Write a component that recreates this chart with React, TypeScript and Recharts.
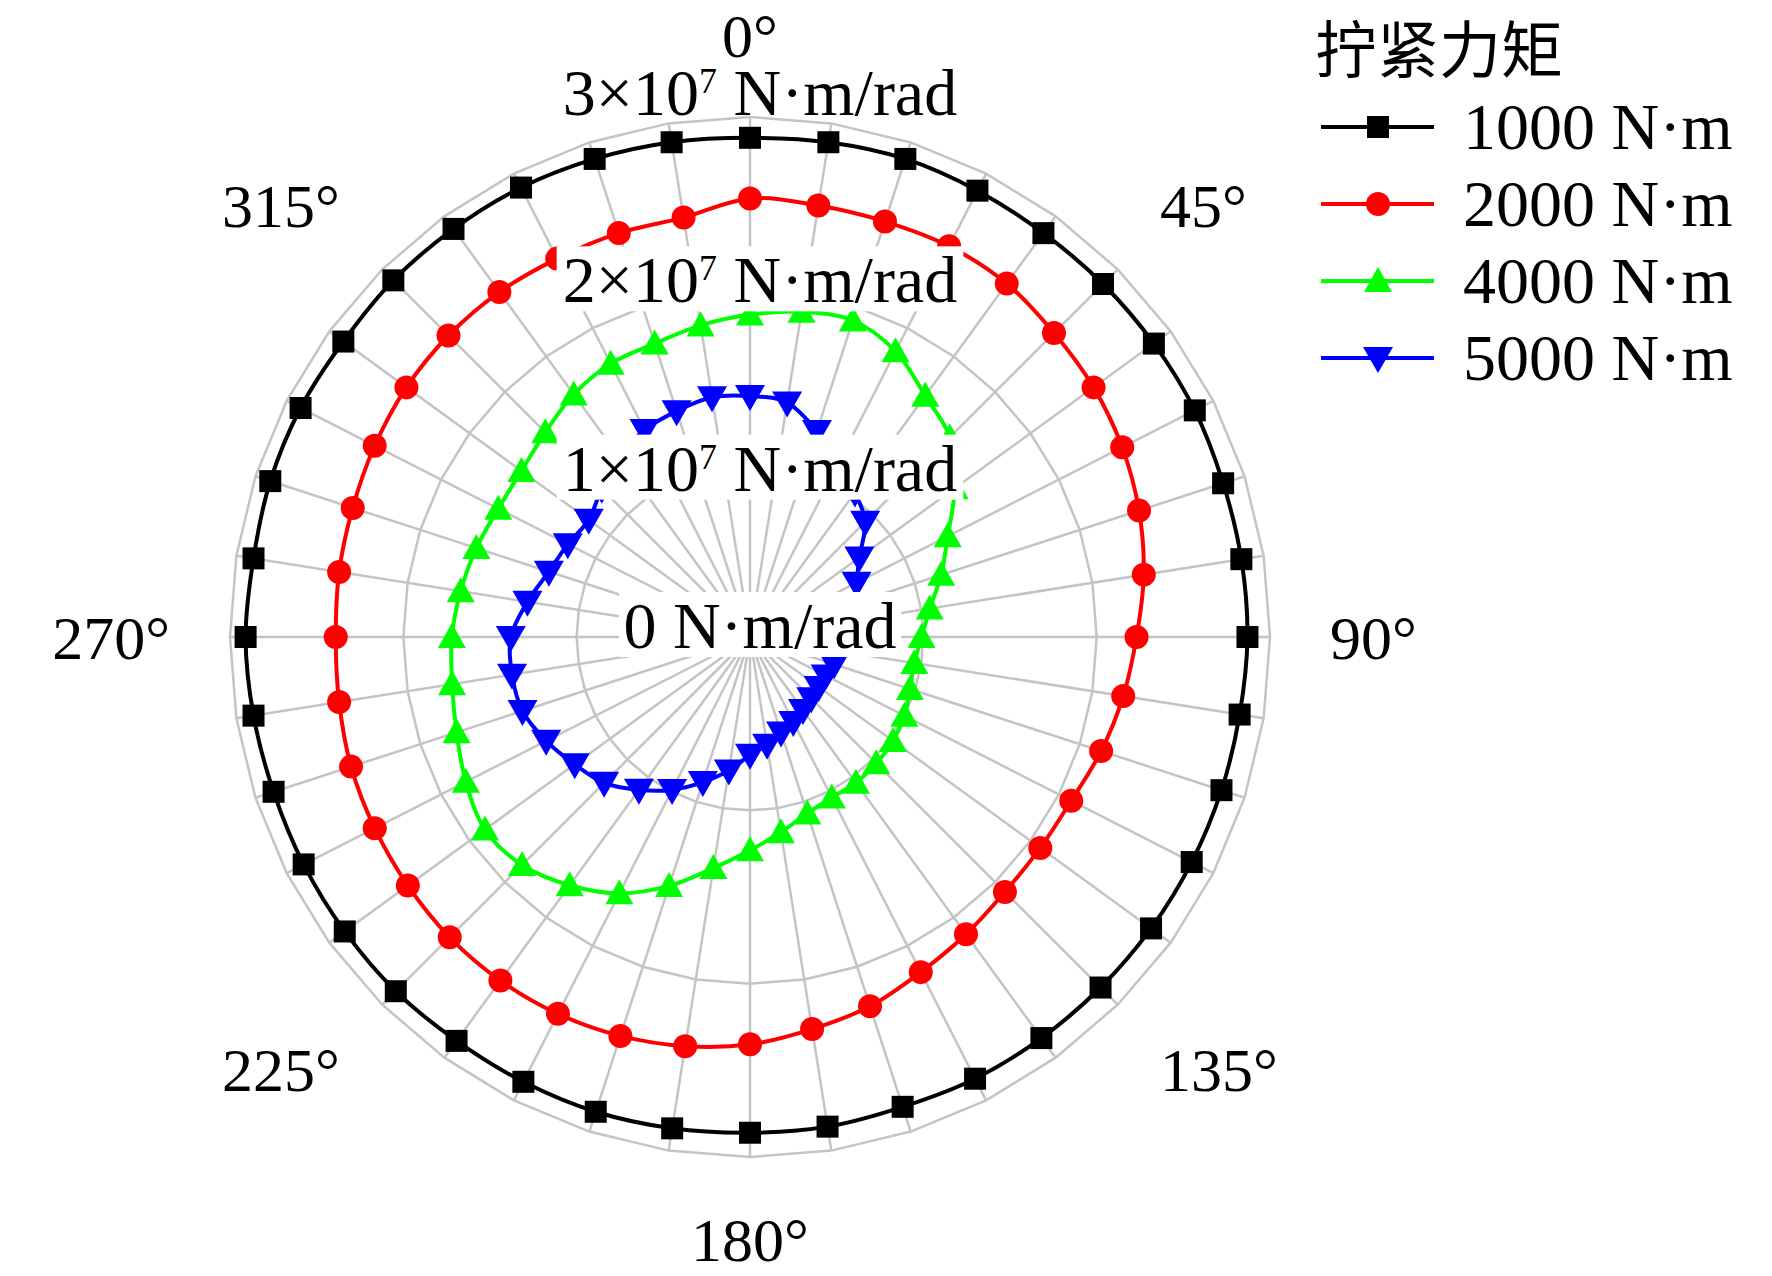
import React from 'react';
import { RadarChart, Radar, PolarGrid, PolarAngleAxis, PolarRadiusAxis } from 'recharts';

// measurement angle, degrees clockwise from the top
const angles = [
  0, 9, 18, 27, 36, 45, 54, 63, 72, 81, 90, 99, 108, 117, 126, 135, 144, 153, 162, 171,
  180, 189, 198, 207, 216, 225, 234, 243, 252, 261, 270, 279, 288, 297, 306, 315, 324, 333, 342, 351,
];

// rotational stiffness in units of 1×10^7 N·m/rad, one value per angle
const stiffness1000 = [
  2.88, 2.89, 2.9, 2.89, 2.88, 2.88, 2.88, 2.88, 2.87, 2.87, 2.87, 2.86, 2.86, 2.86, 2.86, 2.86, 2.86, 2.86, 2.85, 2.86,
  2.86, 2.87, 2.88, 2.88, 2.88, 2.89, 2.89, 2.89, 2.89, 2.9, 2.91, 2.9, 2.91, 2.91, 2.9, 2.91, 2.91, 2.91, 2.9, 2.89,
];
const stiffness2000 = [
  2.53, 2.52, 2.52, 2.53, 2.52, 2.48, 2.45, 2.41, 2.36, 2.3, 2.23, 2.18, 2.13, 2.08, 2.07, 2.08, 2.12, 2.17, 2.24, 2.29,
  2.35, 2.39, 2.42, 2.44, 2.45, 2.45, 2.44, 2.43, 2.42, 2.4, 2.39, 2.4, 2.41, 2.43, 2.45, 2.46, 2.46, 2.45, 2.45, 2.45,
];
const stiffness4000 = [
  1.86, 1.9, 1.92, 1.85, 1.72, 1.63, 1.46, 1.28, 1.16, 1.05, 0.99, 0.96, 0.97, 1.0, 1.02, 1.03, 1.04, 1.04, 1.07, 1.14,
  1.23, 1.35, 1.51, 1.66, 1.77, 1.86, 1.89, 1.84, 1.78, 1.74, 1.72, 1.69, 1.66, 1.63, 1.63, 1.67, 1.73, 1.77, 1.78, 1.82,
];
const stiffness5000 = [
  1.39, 1.37, 1.25, 1.14, 1.03, 0.94, 0.78, 0.69, 0.63, 0.58, 0.55, 0.53, 0.51, 0.49, 0.49, 0.5, 0.52, 0.55, 0.58, 0.63,
  0.68, 0.78, 0.88, 0.99, 1.09, 1.19, 1.25, 1.32, 1.38, 1.39, 1.38, 1.3, 1.22, 1.18, 1.15, 1.21, 1.28, 1.34, 1.37, 1.4,
];

const radiusTicks = [0, 1, 2, 3];
const labelledAngles = [0, 45, 90, 135, 180, 225, 270, 315];

const legendTitle = '拧紧力矩';
const series = [
  { key: 't1000', name: '1000 N·m', color: '#000000', marker: 'square' },
  { key: 't2000', name: '2000 N·m', color: '#ff0000', marker: 'circle' },
  { key: 't4000', name: '4000 N·m', color: '#00ff00', marker: 'up' },
  { key: 't5000', name: '5000 N·m', color: '#0000ff', marker: 'down' },
];

const data = angles.map((angle, i) => ({
  angle,
  t1000: stiffness1000[i],
  t2000: stiffness2000[i],
  t4000: stiffness4000[i],
  t5000: stiffness5000[i],
}));

const W = 1772;
const H = 1276;
const CX = 750;
const CY = 637;
const R = 520;
const SERIF = '"Liberation Serif", "Times New Roman", serif';
const LINE_W = 4;
// baseline offset of each radius label from its ring
const RADIUS_LABEL_DY = [11, 27, 12, -2];

const Marker = ({ type, x, y, color }: { type: string; x: number; y: number; color: string }) => {
  if (type === 'square') return <rect x={x - 11} y={y - 11} width={22} height={22} fill={color} />;
  if (type === 'circle') return <circle cx={x} cy={y} r={12} fill={color} />;
  if (type === 'up')
    return <polygon points={`${x},${y - 14} ${x + 14},${y + 11} ${x - 14},${y + 11}`} fill={color} />;
  return <polygon points={`${x - 15},${y - 11} ${x + 15},${y - 11} ${x},${y + 15}`} fill={color} />;
};

// closed Catmull-Rom curve through the radar points
const smoothClosedPath = (pts: any[]) => {
  const n = pts.length;
  let d = `M${pts[0].x},${pts[0].y}`;
  for (let i = 0; i < n; i++) {
    const p0 = pts[(i - 1 + n) % n];
    const p1 = pts[i];
    const p2 = pts[(i + 1) % n];
    const p3 = pts[(i + 2) % n];
    const c1x = p1.x + (p2.x - p0.x) / 6;
    const c1y = p1.y + (p2.y - p0.y) / 6;
    const c2x = p2.x - (p3.x - p1.x) / 6;
    const c2y = p2.y - (p3.y - p1.y) / 6;
    d += ` C${c1x},${c1y} ${c2x},${c2y} ${p2.x},${p2.y}`;
  }
  return d + 'Z';
};

const AngleTick = (props: any) => {
  const { x, y, payload } = props;
  if (!labelledAngles.includes(payload.value)) return <g />;
  const dx = x - CX;
  const dy = y - CY;
  const len = Math.sqrt(dx * dx + dy * dy) || 1;
  const ux = dx / len;
  const uy = dy / len;
  const px = CX + ux * 580;
  const py = CY + uy * 580;
  const anchor = ux > 0.3 ? 'start' : ux < -0.3 ? 'end' : 'middle';
  const baseline = uy < -0.3 ? py : uy > 0.3 ? py + 44 : py + 22;
  return (
    <text x={px} y={baseline} textAnchor={anchor} fontFamily={SERIF} fontSize={62} fill="#000">
      {`${payload.value}°`}
    </text>
  );
};

const RadiusTick = (props: any) => {
  const { x, y, payload } = props;
  const v = payload.value;
  const idx = radiusTicks.indexOf(v);
  const isOuter = v === radiusTicks[radiusTicks.length - 1];
  const baseline = y + (RADIUS_LABEL_DY[idx] ?? 0);
  const fs = 66;
  const tx = x + 10;
  const w = (v === 0 ? 4.06 : 5.95) * fs;
  return (
    <g>
      {!isOuter && <rect x={tx - w / 2 - 7} y={baseline - 56} width={w + 14} height={65} fill="#ffffff" />}
      <text x={tx} y={baseline} textAnchor="middle" fontFamily={SERIF} fontSize={fs} fill="#000">
        {v === 0 ? (
          '0 N·m/rad'
        ) : (
          <>
            <tspan>{`${v}×10`}</tspan>
            <tspan dy={-22} fontSize={36}>7</tspan>
            <tspan dy={22}> N·m/rad</tspan>
          </>
        )}
      </text>
    </g>
  );
};

const LegendBox = () => {
  const rows = [127, 204, 281, 358];
  return (
    <svg width={W} height={H} style={{ position: 'absolute', left: 0, top: 0, pointerEvents: 'none' }}>
      <text x={1315} y={73} fontFamily='"Noto Sans CJK SC", sans-serif' fontSize={62} fill="#000">
        {legendTitle}
      </text>
      {series.map((s, i) => (
        <g key={s.key}>
          <line x1={1321} x2={1434} y1={rows[i]} y2={rows[i]} stroke={s.color} strokeWidth={LINE_W} />
          <Marker type={s.marker} x={1378} y={rows[i]} color={s.color} />
          <text x={1463} y={rows[i] + 22} fontFamily={SERIF} fontSize={66} fill="#000">
            {s.name}
          </text>
        </g>
      ))}
    </svg>
  );
};

const chartProps = {
  width: W,
  height: H,
  data,
  cx: CX,
  cy: CY,
  outerRadius: R,
  margin: { top: 0, right: 0, bottom: 0, left: 0 },
};

export default function App() {
  return (
    <div style={{ position: 'absolute', left: 0, top: 0, width: W, height: H, background: '#ffffff' }}>
      <RadarChart {...chartProps}>
        <PolarGrid gridType="polygon" stroke="#c4c4c4" strokeWidth={2.5} />
        <PolarAngleAxis dataKey="angle" tick={AngleTick} tickLine={false} axisLine={false} />
        <PolarRadiusAxis
          angle={90}
          domain={[0, 3]}
          tickCount={4}
          type="number"
          axisLine={false}
          tickLine={false}
          tick={false}
        />
        {series.map((s) => (
          <Radar
            key={s.key}
            dataKey={s.key}
            name={s.name}
            stroke={s.color}
            fill="none"
            isAnimationActive={false}
            shape={(p: any) => (
              <path d={smoothClosedPath(p.points)} fill="none" stroke={s.color} strokeWidth={LINE_W} />
            )}
            dot={(p: any) => <Marker key={`${s.key}-${p.index}`} type={s.marker} x={p.cx} y={p.cy} color={s.color} />}
          />
        ))}
      </RadarChart>
      {/* radius-axis labels sit on white boxes above the curves, so they get their own layer */}
      <div style={{ position: 'absolute', left: 0, top: 0, pointerEvents: 'none' }}>
        <RadarChart {...chartProps}>
          <PolarAngleAxis dataKey="angle" tick={false} tickLine={false} axisLine={false} />
          <PolarRadiusAxis
            angle={90}
            domain={[0, 3]}
            tickCount={4}
            type="number"
            axisLine={false}
            tickLine={false}
            tick={RadiusTick}
          />
          {/* invisible carrier series so this layer lays out its axes */}
          <Radar dataKey="t1000" stroke="none" fill="none" dot={false} legendType="none" isAnimationActive={false} />
        </RadarChart>
      </div>
      <LegendBox />
    </div>
  );
}
